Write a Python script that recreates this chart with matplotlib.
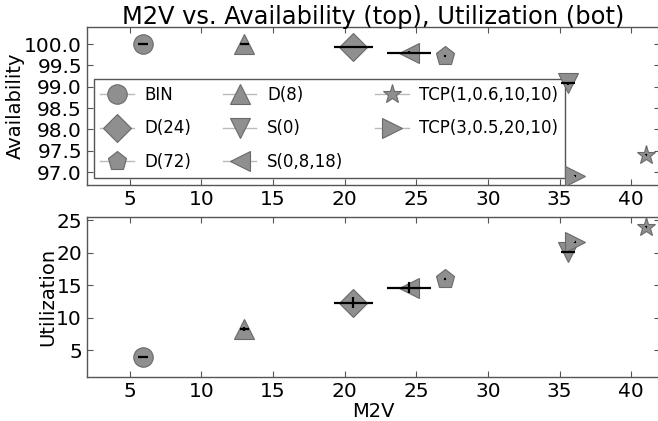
import numpy as np
import matplotlib
matplotlib.use('Agg')
from matplotlib import pyplot as plt
from matplotlib.lines import Line2D

# series, in legend order
labels = ['BIN', 'D(24)', 'D(72)', 'D(8)', 'S(0)', 'S(0,8,18)',
          'TCP(1,0.6,10,10)', 'TCP(3,0.5,20,10)']
markers = ['o', 'D', 'p', '^', 'v', '<', '*', '>']
m2v = [5.9, 20.6, 27.0, 13.0, 35.6, 24.5, 41.05, 36.1]
m2v_err = [0.35, 1.35, 0.05, 0.3, 0.5, 1.55, 0.05, 0.05]
avail = [100.0, 99.92, 99.73, 99.99, 99.08, 99.8, 97.41, 96.91]
avail_err = [0.01, 0.02, 0.01, 0.01, 0.03, 0.03, 0.01, 0.01]
util = [3.9, 12.3, 15.9, 8.2, 20.1, 14.6, 23.97, 21.6]
util_err = [0.1, 0.8, 0.1, 0.3, 0.2, 0.8, 0.1, 0.1]

face = '#8f8f8f'
edge = '#6a6a6a'
spine = '#555555'


def style_axes(ax):
    """old-style look: ticks inside on all four sides"""
    ax.tick_params(direction='in', top=True, right=True, labelsize=14.5,
                   length=4, color=spine)
    for s in ax.spines.values():
        s.set_color(spine)
        s.set_linewidth(1.0)
    ax.set_xlim(2, 42)
    ax.set_xticks([5, 10, 15, 20, 25, 30, 35, 40])


def draw(ax, yvals, yerr):
    for i in range(len(labels)):
        ax.plot(m2v[i], yvals[i], linestyle='none', marker=markers[i], ms=14,
                mfc=face, mec=edge, mew=0.8, zorder=6)
        ax.errorbar(m2v[i], yvals[i], xerr=m2v_err[i], yerr=yerr[i],
                    fmt='none', ecolor='black', elinewidth=1.6, capsize=0,
                    zorder=7)


def main():
    fig = plt.figure(figsize=(6.58, 4.21), dpi=100)
    ax1 = fig.add_axes([0.132, 0.561, 0.871, 0.375])
    ax2 = fig.add_axes([0.132, 0.105, 0.871, 0.380])

    draw(ax1, avail, avail_err)
    style_axes(ax1)
    ax1.set_ylim(96.7, 100.4)
    ax1.set_yticks([97.0, 97.5, 98.0, 98.5, 99.0, 99.5, 100.0])
    ax1.set_yticklabels(['%.1f' % v for v in ax1.get_yticks()])
    ax1.set_ylabel('Availability', fontsize=14)
    ax1.yaxis.set_label_coords(-0.108, 0.5)
    ax1.set_title('M2V vs. Availability (top), Utilization (bot)',
                  fontsize=17.4, pad=2)

    handles = [Line2D([], [], color='#bbbbbb', lw=1.0, marker=m, ms=14,
                      mfc=face, mec=edge, mew=0.8) for m in markers]
    leg = ax1.legend(handles, labels, ncol=3, loc='lower left',
                     bbox_to_anchor=(0.012, 0.044), borderaxespad=0,
                     fontsize=12, numpoints=1, labelspacing=0.95,
                     handlelength=2.0, handletextpad=0.65, columnspacing=1.9,
                     fancybox=False, framealpha=1, borderpad=0.4)
    leg.get_frame().set_edgecolor(spine)
    leg.get_frame().set_linewidth(1.0)
    leg.set_zorder(3)

    draw(ax2, util, util_err)
    style_axes(ax2)
    ax2.set_ylim(0.9, 25.5)
    ax2.set_yticks([5, 10, 15, 20, 25])
    ax2.set_ylabel('Utilization', fontsize=14)
    ax2.yaxis.set_label_coords(-0.052, 0.5)
    ax2.set_xlabel('M2V', fontsize=14, labelpad=1)

    fig.savefig('out.png', dpi=100)


if __name__ == '__main__':
    main()
